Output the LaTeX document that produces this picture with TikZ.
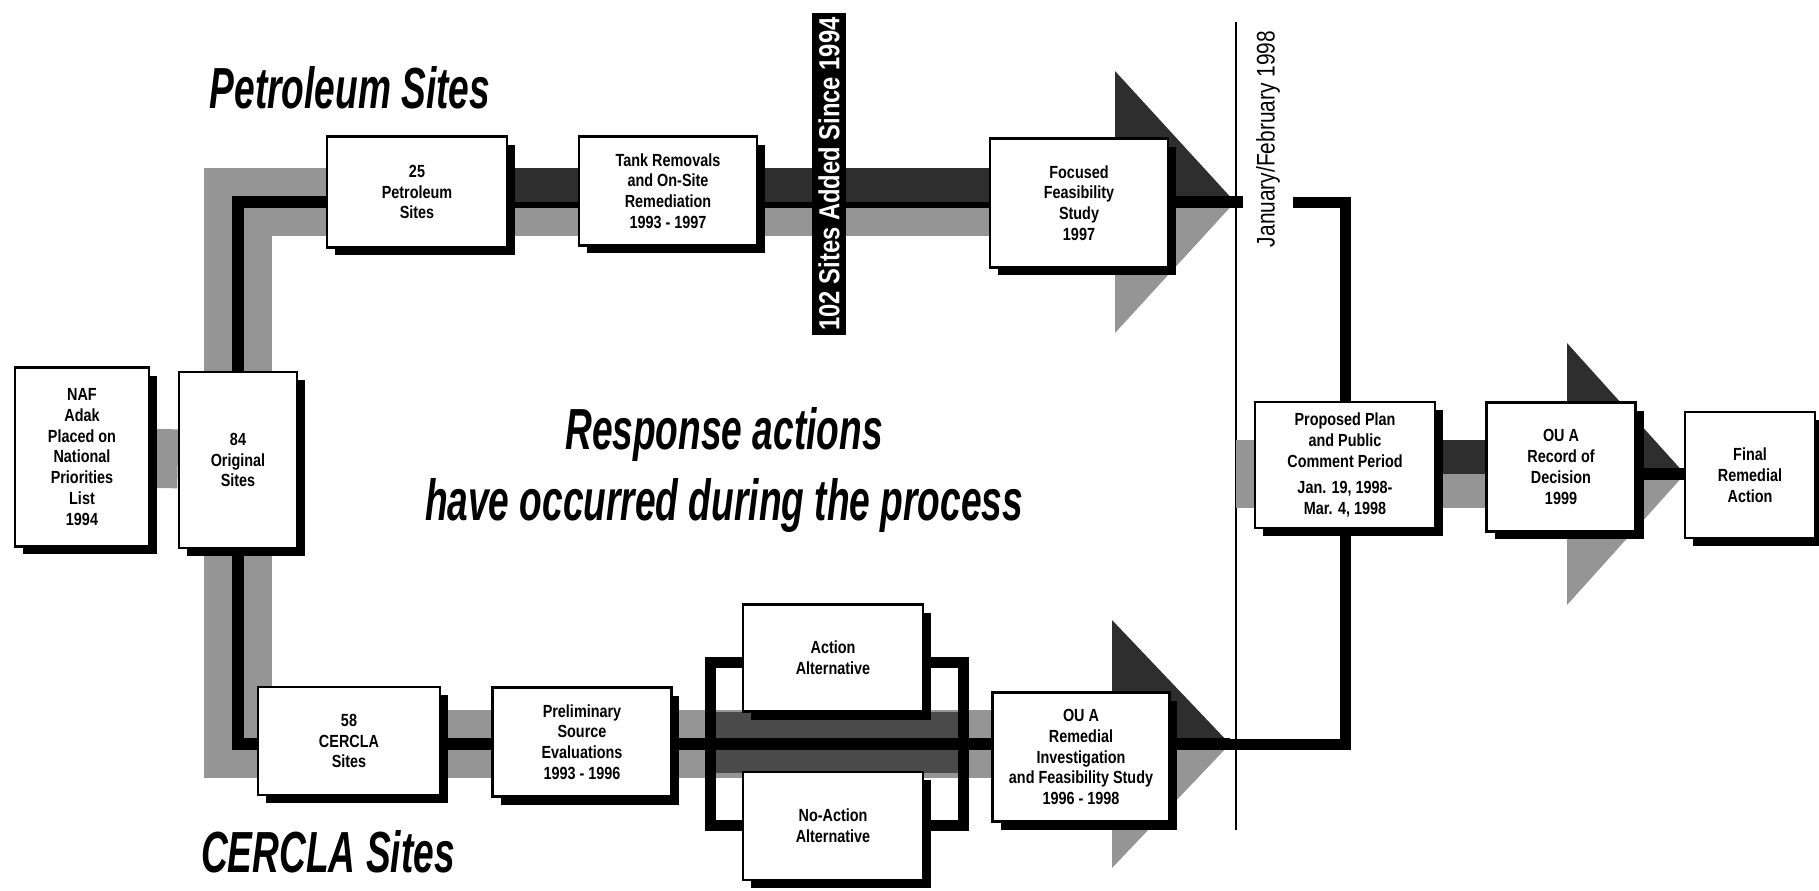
\documentclass[tikz,border=0pt]{standalone}
\usepackage{fontspec}
\setmainfont{Liberation Sans}
\newfontfamily\boxfont{Liberation Sans}[FakeStretch=0.82]
\newfontfamily\headfont{Liberation Sans}[FakeStretch=0.64]
\usepackage{tikz}
\usetikzlibrary{calc,backgrounds,shadows,positioning}
\definecolor{adgray}{HTML}{959595}
\definecolor{addark}{HTML}{2E2E2E}
\definecolor{admid}{HTML}{4A4A4A}
\tikzset{
  pbox/.style={draw=black,line width=1.3pt,fill=white,align=center,inner sep=1pt,
    font=\boxfont\bfseries\fontsize{10}{11.8}\selectfont,
    drop shadow={shadow xshift=.16cm,shadow yshift=-.16cm,fill=black,opacity=1}},
  band/.style={draw=adgray,line width=1.36cm},
  bandtop/.style={draw=addark,line width=.68cm},
  bandcore/.style={draw=black,line width=.24cm},
  link/.style={draw=black,line width=.22cm},
  tline/.style={draw=black,line width=1.1pt},
  ttl/.style={font=\headfont\bfseries\itshape\fontsize{33}{40}\selectfont,align=center,inner sep=0pt},
  addbar/.style={fill=black,text=white,rotate=90,minimum width=6.44cm,minimum height=.68cm,
    inner sep=0pt,font=\boxfont\bfseries\fontsize{16.5}{18}\selectfont}
}
% arrow head: tip, length, half height (upper half dark, lower half grey)
\newcommand{\flowtip}[3]{%
  \fill[addark] ($(#1)+(-#2,-#3)$) -- (#1) -- ($(#1)+(-#2,0)$) -- cycle;
  \fill[adgray] ($(#1)+(-#2,0)$) -- (#1) -- ($(#1)+(-#2,#3)$) -- cycle;}

\begin{document}
\begin{tikzpicture}[x=0.02cm,y=-0.02cm]
  \useasboundingbox (0,0) rectangle (1819,890);
  \coordinate (toprow) at (0,202);
  \coordinate (botrow) at (0,744);
  \coordinate (rightrow) at (0,474);
  \coordinate (toptip) at (1235,202);
  \coordinate (bottip) at (1230,744);
  \coordinate (rodtip) at (1685,474);
  \coordinate (tltop) at (1236,22);
  \coordinate (tlbot) at (1236,830);
  \coordinate (planin) at (1293,202);

  % titles
  \node[ttl] (pettitle) at (350,88) {Petroleum Sites};
  \node[ttl] (certitle) at (328,852) {CERCLA Sites};
  \node[ttl] (resp) at (724,470) {Response actions\\have occurred during the process};

  % boxes
  \node[pbox,minimum width=2.68cm,minimum height=3.58cm] (naf) at (82,457) {NAF\\Adak\\Placed on\\National\\Priorities\\List\\1994};
  \node[pbox,minimum width=2.36cm,minimum height=3.52cm] (orig) at (238,460) {84\\Original\\Sites};
  \node[pbox,minimum width=3.6cm,minimum height=2.22cm] (pet) at (417,192) {25\\Petroleum\\Sites};
  \node[pbox,minimum width=3.56cm,minimum height=2.18cm] (tank) at (668,191) {Tank Removals\\and On-Site\\Remediation\\1993 - 1997};
  \node[pbox,minimum width=3.56cm,minimum height=2.58cm] (ffs) at (1079,203) {Focused\\Feasibility\\Study\\1997};
  \node[pbox,minimum width=3.64cm,minimum height=2.16cm] (cer) at (349,741) {58\\CERCLA\\Sites};
  \node[pbox,minimum width=3.58cm,minimum height=2.18cm] (pse) at (582,742) {Preliminary\\Source\\Evaluations\\1993 - 1996};
  \node[pbox,minimum width=3.6cm,minimum height=2.14cm] (act) at (833,658) {Action\\Alternative};
  \node[pbox,minimum width=3.6cm,minimum height=2.16cm] (noact) at (833,826) {No-Action\\Alternative};
  \node[pbox,minimum width=3.54cm,minimum height=2.58cm] (rifs) at (1081,757) {OU A\\Remedial\\Investigation\\and Feasibility Study\\1996 - 1998};
  \node[pbox,minimum width=3.6cm,minimum height=2.52cm] (plan) at (1345,465) {Proposed Plan\\and Public\\Comment Period\\[3pt]Jan. 19, 1998-\\Mar. 4, 1998};
  \node[pbox,minimum width=2.98cm,minimum height=2.58cm] (rod) at (1561,467) {OU A\\Record of\\Decision\\1999};
  \node[pbox,minimum width=2.6cm,minimum height=2.52cm] (fin) at (1750,475) {Final\\Remedial\\Action};

  \node[addbar] (added) at (829,174) {102 Sites Added Since 1994};
  \node[rotate=90,inner sep=0pt,font=\boxfont\fontsize{14.5}{16}\selectfont] (jan) at (1268,139) {January/February 1998};

  \begin{scope}[on background layer]
    % NPL listing into the original sites
    \draw[band,line width=1.18cm] (naf) -- (orig);
    % the two site streams
    \draw[band] (ffs.center |- toprow) -| (orig.center) |- (rifs.center |- botrow);
    \draw[band] (ffs.center |- toprow) -- ($(toptip)+(-120,0)$);
    \draw[band] (rifs.center |- botrow) -- ($(bottip)+(-118,0)$);
    \draw[bandcore] ($(toptip)+(8,0)$) -| (orig.center) |- (bottip);
    \draw[bandtop] ($(pet.center |- toprow)+(0,-17)$) -- ($(toptip)+(-120,-17)$);
    \fill[admid] (710,712) rectangle (963,773);
    \draw[bandcore] (pse.center |- botrow) -- (bottip);
    \draw[link] (710,662) rectangle (963,825);
    \flowtip{toptip}{120}{131}
    \flowtip{bottip}{118}{124}
    \draw[bandcore] (ffs.center |- toprow) -- ($(toptip)+(8,0)$);
    \draw[bandcore] (rifs.center |- botrow) -- (bottip);
    % after the decision date
    \draw[tline] (tltop) -- (tlbot);
    \draw[link] (planin) -| (plan.center) |- (bottip);
    \draw[band] (tltop |- rightrow) -- ($(rodtip)+(-118,0)$);
    \draw[bandtop] ($(plan.center |- rightrow)+(0,-17)$) -- ($(rodtip)+(-118,-17)$);
    \flowtip{rodtip}{118}{131}
    \draw[bandcore] (rod.center |- rightrow) -- (rodtip);
  \end{scope}
\end{tikzpicture}
\end{document}
